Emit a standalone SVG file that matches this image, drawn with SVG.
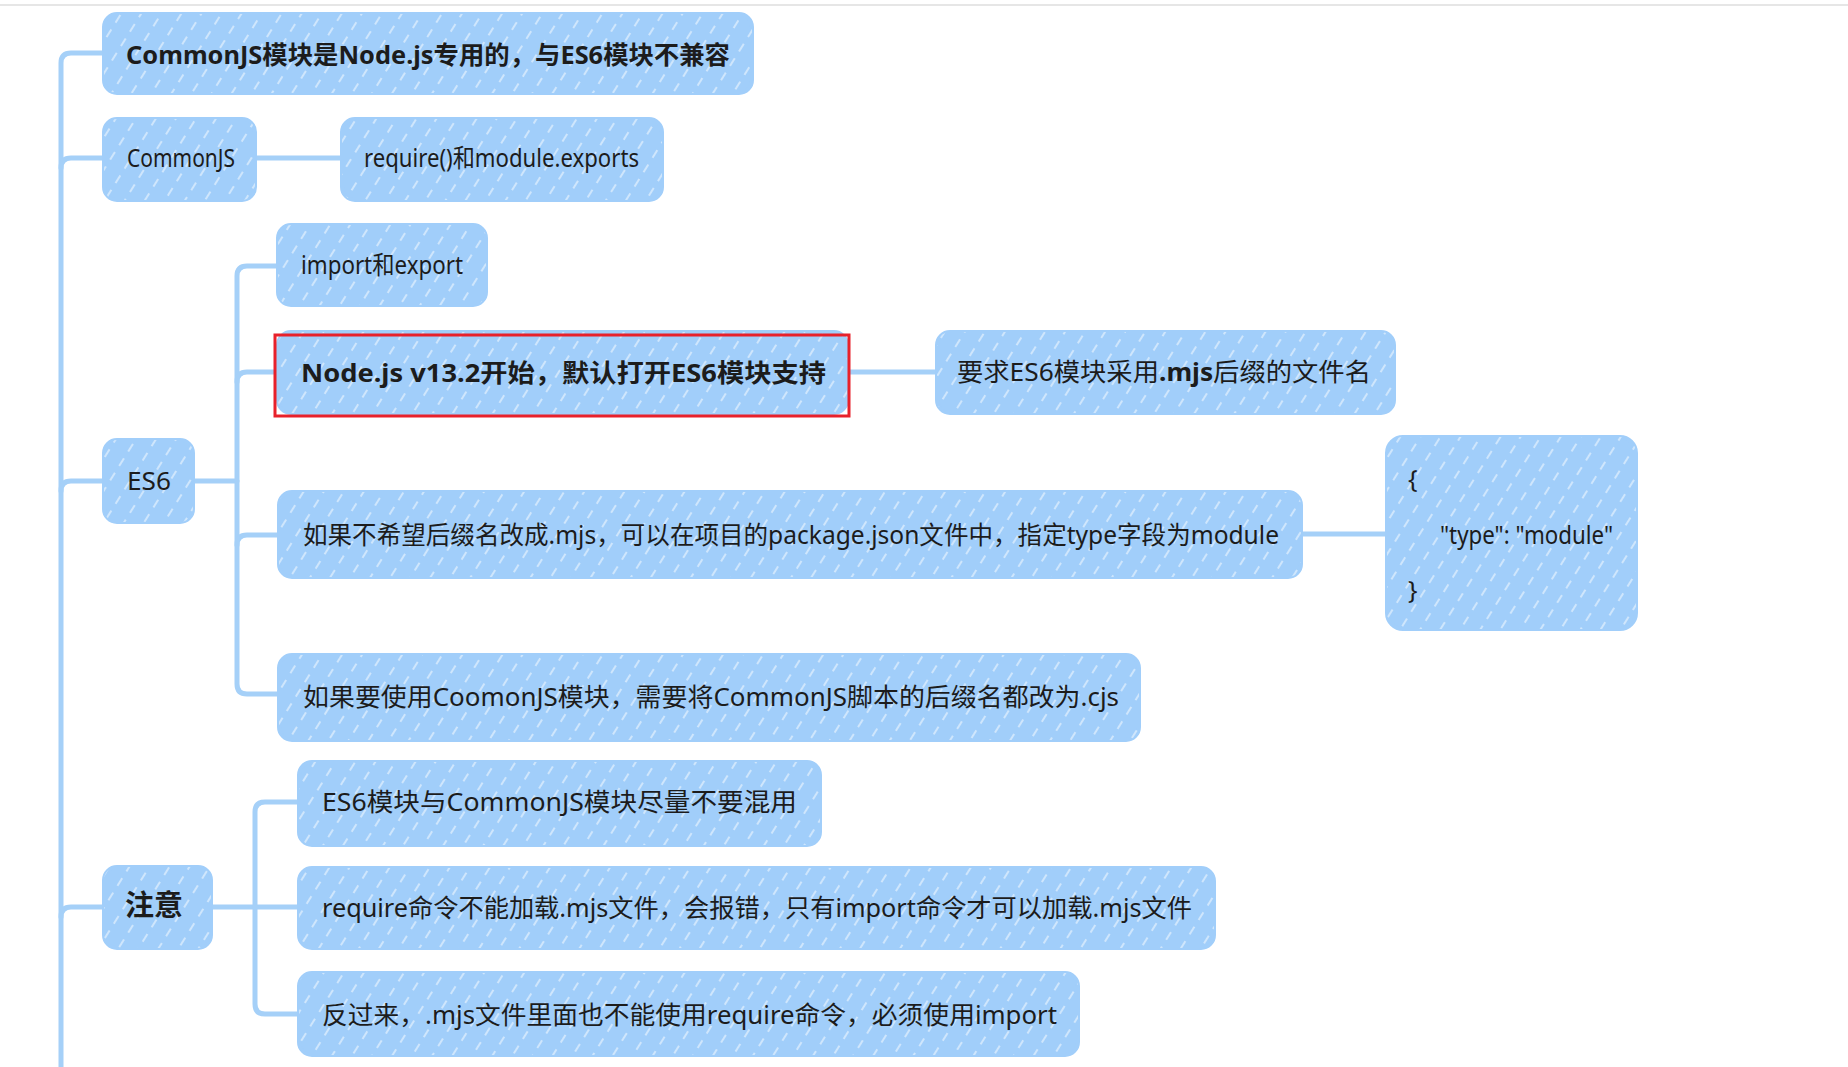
<svg xmlns="http://www.w3.org/2000/svg" width="1848" height="1067" viewBox="0 0 1848 1067">
<defs>
<pattern id="hatch" patternUnits="userSpaceOnUse" width="17" height="17" patternTransform="rotate(32)">
<line x1="8" y1="0" x2="8" y2="17" stroke="#ffffff" stroke-width="1.5" stroke-dasharray="9 8" stroke-opacity="0.65"/>
</pattern>
<style>
.box{fill:#a1cefa;stroke:#a1cefa;stroke-width:4;stroke-linejoin:round}
.hat{fill:url(#hatch);stroke:none}
.t{font-family:"Noto Sans","Noto Sans CJK SC",sans-serif;font-size:25px;fill:#1c1c1c}
.b{font-weight:bold}
.con{fill:none;stroke:#a5d0f8;stroke-width:5;stroke-linecap:round;stroke-linejoin:round}
</style>
</defs>
<rect x="0" y="4" width="1848" height="2" fill="#e6e6e6"/>
<g id="connectors">
<path class="con" d="M104 53 H71 Q61 53 61 63 V1067"/>
<path class="con" d="M61 168 Q61 158 71 158 H104"/>
<path class="con" d="M61 491 Q61 481 71 481 H104"/>
<path class="con" d="M61 917 Q61 907 71 907 H104"/>
<path class="con" d="M255 158 H342"/>
<path class="con" d="M193 481 H237"/>
<path class="con" d="M278 266 H247 Q237 266 237 276 V684 Q237 694 247 694 H279"/>
<path class="con" d="M237 382 Q237 372 247 372 H278"/>
<path class="con" d="M237 545 Q237 535 247 535 H279"/>
<path class="con" d="M847 372 H937"/>
<path class="con" d="M1301 534 H1387"/>
<path class="con" d="M211 907 H255"/>
<path class="con" d="M299 802 H265 Q255 802 255 812 V1004 Q255 1014 265 1014 H299"/>
<path class="con" d="M255 907 H299"/>
</g>
<g id="node-title">
<rect class="box" x="104" y="14" width="648" height="79" rx="13"/>
<rect class="hat" x="104" y="14" width="648" height="79" rx="13"/>
<text class="t b" x="126" y="64" textLength="604" lengthAdjust="spacingAndGlyphs">CommonJS模块是Node.js专用的，与ES6模块不兼容</text>
</g>
<g id="node-commonjs">
<rect class="box" x="104" y="119" width="151" height="81" rx="13"/>
<rect class="hat" x="104" y="119" width="151" height="81" rx="13"/>
<text class="t" x="127" y="167" textLength="108" lengthAdjust="spacingAndGlyphs">CommonJS</text>
</g>
<g id="node-require">
<rect class="box" x="342" y="119" width="320" height="81" rx="13"/>
<rect class="hat" x="342" y="119" width="320" height="81" rx="13"/>
<text class="t" x="364" y="167" textLength="275" lengthAdjust="spacingAndGlyphs">require()和module.exports</text>
</g>
<g id="node-es6">
<rect class="box" x="104" y="440" width="89" height="82" rx="13"/>
<rect class="hat" x="104" y="440" width="89" height="82" rx="13"/>
<text class="t" x="127" y="490" textLength="44" lengthAdjust="spacingAndGlyphs">ES6</text>
</g>
<g id="node-import">
<rect class="box" x="278" y="225" width="208" height="80" rx="13"/>
<rect class="hat" x="278" y="225" width="208" height="80" rx="13"/>
<text class="t" x="301" y="274" textLength="162" lengthAdjust="spacingAndGlyphs">import和export</text>
</g>
<g id="node-nodejs">
<rect class="box" x="278" y="332" width="569" height="81" rx="13"/>
<rect class="hat" x="278" y="332" width="569" height="81" rx="13"/>
<text class="t b" x="301" y="382" textLength="525" lengthAdjust="spacingAndGlyphs">Node.js v13.2开始，默认打开ES6模块支持</text>
<rect x="275" y="335" width="574" height="81" fill="none" stroke="#e8212b" stroke-width="3"/>
</g>
<g id="node-mjs">
<rect class="box" x="937" y="332" width="457" height="81" rx="13"/>
<rect class="hat" x="937" y="332" width="457" height="81" rx="13"/>
<text class="t" x="957" y="381" textLength="414" lengthAdjust="spacingAndGlyphs">要求ES6模块采用<tspan class="b">.mjs</tspan>后缀的文件名</text>
</g>
<g id="node-packagejson">
<rect class="box" x="279" y="492" width="1022" height="85" rx="13"/>
<rect class="hat" x="279" y="492" width="1022" height="85" rx="13"/>
<text class="t" x="303" y="544" textLength="976" lengthAdjust="spacingAndGlyphs">如果不希望后缀名改成.mjs，可以在项目的package.json文件中，指定type字段为module</text>
</g>
<g id="node-json">
<rect class="box" x="1387" y="437" width="249" height="192" rx="16"/>
<rect class="hat" x="1387" y="437" width="249" height="192" rx="16"/>
<text class="t" x="1408" y="488">{</text>
<text class="t" x="1440" y="544" textLength="173" lengthAdjust="spacingAndGlyphs">"type": "module"</text>
<text class="t" x="1408" y="599">}</text>
</g>
<g id="node-cjs">
<rect class="box" x="279" y="655" width="860" height="85" rx="13"/>
<rect class="hat" x="279" y="655" width="860" height="85" rx="13"/>
<text class="t" x="303" y="706" textLength="816" lengthAdjust="spacingAndGlyphs">如果要使用CoomonJS模块，需要将CommonJS脚本的后缀名都改为.cjs</text>
</g>
<g id="node-note">
<rect class="box" x="104" y="867" width="107" height="81" rx="13"/>
<rect class="hat" x="104" y="867" width="107" height="81" rx="13"/>
<text class="t b" x="125" y="916" style="font-size:29px">注意</text>
</g>
<g id="node-mix">
<rect class="box" x="299" y="762" width="521" height="83" rx="13"/>
<rect class="hat" x="299" y="762" width="521" height="83" rx="13"/>
<text class="t" x="322" y="811" textLength="475" lengthAdjust="spacingAndGlyphs">ES6模块与CommonJS模块尽量不要混用</text>
</g>
<g id="node-requiremjs">
<rect class="box" x="299" y="868" width="915" height="80" rx="13"/>
<rect class="hat" x="299" y="868" width="915" height="80" rx="13"/>
<text class="t" x="322" y="917" textLength="870" lengthAdjust="spacingAndGlyphs">require命令不能加载.mjs文件，会报错，只有import命令才可以加载.mjs文件</text>
</g>
<g id="node-reverse">
<rect class="box" x="299" y="973" width="779" height="82" rx="13"/>
<rect class="hat" x="299" y="973" width="779" height="82" rx="13"/>
<text class="t" x="322" y="1024" textLength="735" lengthAdjust="spacingAndGlyphs">反过来，.mjs文件里面也不能使用require命令，必须使用import</text>
</g>
</svg>
